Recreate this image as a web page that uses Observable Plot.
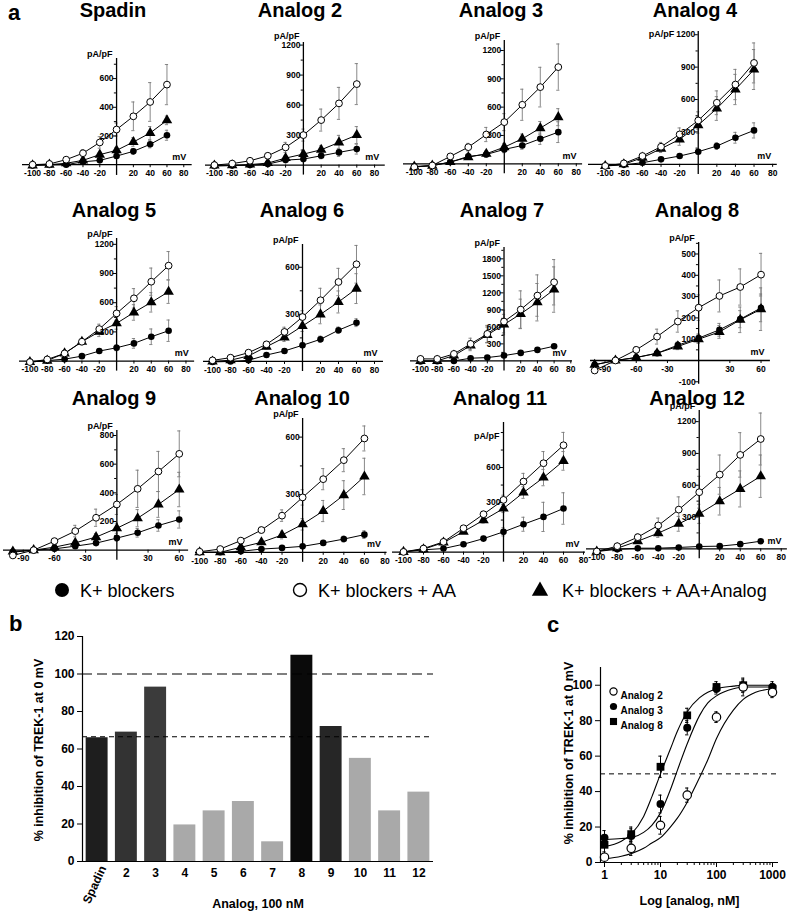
<!DOCTYPE html>
<html><head><meta charset="utf-8">
<script src="https://cdn.jsdelivr.net/npm/d3@7"></script>
<script src="https://cdn.jsdelivr.net/npm/@observablehq/plot@0.6"></script>
<style>
html,body{margin:0;padding:0;background:#fff;}
#root{position:relative;width:787px;height:915px;overflow:hidden;font-family:"Liberation Sans",Arial,sans-serif;color:#000;}
.t{position:absolute;font-weight:bold;white-space:nowrap;}
</style></head>
<body><div id="root"></div>
<script>
// ---------------- DATA ----------------
const voltages = [-100, -80, -60, -40, -20, 0, 20, 40, 60];
const panelTitles = ["Spadin","Analog 2","Analog 3","Analog 4","Analog 5","Analog 6","Analog 7","Analog 8","Analog 9","Analog 10","Analog 11","Analog 12"];
// K+ blockers (filled circles)
const kBlockers = [
  [-5,-2,0,20,30,60,93,142,205],
  [-10,-5,0,10,50,60,93,127,160],
  [-30,-20,18,78,99,152,194,265,335],
  [-15,-5,15,46,77,117,169,246,314],
  [-10,5,20,51,103,137,182,250,312],
  [-3,0,7,41,67,103,141,199,247],
  [-10,-5,0,47,59,94,141,194,259],
  [-20,0,14,34,72,105,144,194,247],
  [-14,0,9,28,49,84,121,172,214],
  [0,0,5,17,23,31,49,69,92],
  [-123,-105,-94,-57,-9,49,114,177,249],
  [-25,-5,6,6,13,22,25,44,72]
];
const kBlockersErr = [
  [3,3,3,8,10,15,20,25,35],
  [3,3,5,8,15,20,30,40,50],
  [5,5,10,20,30,35,40,60,110],
  [5,5,8,12,15,20,30,50,70],
  [3,5,8,12,20,30,50,80,110],
  [3,3,5,10,15,15,20,20,25],
  [3,3,5,8,10,15,20,25,30],
  [5,5,8,10,15,20,30,40,65],
  [3,3,5,10,15,20,30,40,60],
  [2,2,3,5,5,8,10,15,20],
  [3,3,5,10,20,35,60,125,135],
  [3,3,3,3,5,5,8,10,12]
];
// K+ blockers + AA (open circles)
const kBlockersAA = [
  [0,5,35,80,155,245,337,437,558],
  [0,15,43,93,177,300,450,617,810],
  [-35,-18,78,176,310,441,625,812,1024],
  [-15,9,77,163,277,406,570,739,939],
  [-10,17,79,199,329,490,645,816,981],
  [7,24,56,109,188,283,390,506,619],
  [35,35,123,300,476,694,905,1152,1387],
  [-47,0,50,112,183,248,303,345,403],
  [-37,0,63,133,226,319,428,549,672],
  [3,17,61,116,191,286,381,480,593],
  [-123,-94,-37,80,200,323,480,637,791],
  [-25,25,110,220,370,534,700,886,1036]
];
const kBlockersAAErr = [
  [3,5,10,25,40,45,100,135,140],
  [5,8,15,25,50,60,110,160,205],
  [5,5,20,40,75,90,165,210,245],
  [5,5,15,40,60,80,110,140,185],
  [3,5,15,30,50,70,100,140,145],
  [3,5,10,15,30,40,76,87,120],
  [10,10,30,100,150,200,330,365,400],
  [5,5,15,35,50,60,75,85,100],
  [5,5,15,40,60,70,130,140,160],
  [3,5,10,15,30,40,55,60,65],
  [3,5,10,20,25,40,70,100,110],
  [5,10,30,70,120,150,185,210,245]
];
// K+ blockers + AA + Analog (triangles)
const kBlockersAAAnalog = [
  [-5,0,10,30,70,100,158,221,309],
  [-5,-2,5,20,70,110,153,227,300],
  [-30,-20,18,70,106,176,265,378,494],
  [-15,0,62,145,231,363,517,693,878],
  [-10,5,79,199,302,388,500,604,713],
  [0,8,35,94,152,226,300,379,464],
  [0,0,94,270,458,641,829,1035,1258],
  [-20,0,14,34,66,100,134,191,241],
  [-10,0,21,51,91,153,223,319,423],
  [0,0,26,52,90,146,215,298,395],
  [-123,-100,-43,51,149,249,386,514,657],
  [-25,6,72,148,236,330,449,565,685]
];
const kBlockersAAAnalogErr = [
  [3,3,5,10,15,20,30,45,30],
  [3,3,5,10,20,25,40,70,85],
  [5,5,10,20,30,40,50,70,90],
  [5,5,15,35,55,75,110,140,185],
  [3,5,15,30,50,60,80,100,120],
  [3,5,10,15,25,35,60,70,95],
  [5,5,25,90,140,180,260,330,400],
  [5,5,8,10,15,20,30,60,100],
  [3,3,8,15,25,35,60,90,120],
  [2,2,5,10,20,30,55,75,95],
  [3,5,10,15,25,35,50,70,80],
  [5,5,20,40,70,90,130,170,200]
];
const xTickLabelsStd = [-100,-80,-60,-40,-20,20,40,60,80];
const xTickLabels30 = [-90,-60,-30,30,60];
const yTickLabels = [
  [200,400,600],
  [300,600,900,1200],
  [300,600,900,1200],
  [300,600,900,1200],
  [300,600,900,1200],
  [300,600],
  [300,600,900,1200,1500,1800],
  [-100,100,200,300,400,500],
  [200,400,600,800],
  [300,600],
  [300,600],
  [300,600,900,1200]
];
const legendLabels = ["K+ blockers","K+ blockers + AA","K+ blockers + AA+Analog"];

// panel b
const barLabels = ["Spadin","2","3","4","5","6","7","8","9","10","11","12"];
const barValues = [66,69,93,19.5,27,32,10.5,110,72,55,27,37];
const barRefLines = [100,66.5];
const barYTicks = [0,20,40,60,80,100,120];

// panel c
const doseConc = [1,3,10,30,100,300,1000];
const analog2Inh = [3,8,21,38,82,99,96];
const analog2Err = [3,4,5,4,3,5,3];
const analog3Inh = [14,15,33,76,98,99,99];
const analog3Err = [4,4,5,4,3,3,3];
const analog8Inh = [10,16,54,83,99,100,98];
const analog8Err = [5,4,6,4,3,3,3];
const fitConc = [1,2,3,5,7,10,15,20,30,50,70,100,200,300,500,1000];
const analog2Fit = [2,3.5,5,8,11,14,20,25,34,48,58,70,86,92,96,98];
const analog3Fit = [13,13.5,14,17,21,28,41,52,67,83,90,94,98,99,99,99];
const analog8Fit = [9,12,16,26,37,50,64,74,85,93,96,98,99.5,100,100,100];
const doseXTicks = [1,10,100,1000];
const doseYTicks = [0,20,40,60,80,100];
const doseLegend = ["Analog 2","Analog 3","Analog 8"];

// ---------------- STYLE / LAYOUT ----------------
const FONT = '"Liberation Sans", Arial, Helvetica, sans-serif';
const barFills = ["#1e1e1e","#333333","#3b3b3b","#a9a9a9","#a9a9a9","#a9a9a9","#a9a9a9","#0a0a0a","#262626","#a9a9a9","#a9a9a9","#a9a9a9"];
const ivLayout = [
  {ox:116,   oy:164.3, sx:0.84,  sy:0.1435, xd:[-112,90], yd:[-75,740]},
  {ox:303.3, oy:164.3, sx:0.89,  sy:0.1,    xd:[-110,92], yd:[-100,1226], paDy:-2},
  {ox:503.3, oy:163.5, sx:0.9,   sy:0.0944, xd:[-112,87], yd:[-106,1306]},
  {ox:697.7, oy:163.5, sx:0.93,  sy:0.108,  xd:[-118,85], yd:[-93,1230], paDx:-20, paY:1200, paDy:3},
  {ox:116,   oy:360.5, sx:0.867, sy:0.0973, xd:[-112,90], yd:[-103,1260]},
  {ox:302.3, oy:360.5, sx:0.9,   sy:0.157,  xd:[-110,90], yd:[-64,745]},
  {ox:503.3, oy:360.5, sx:0.835, sy:0.0567, xd:[-112,82], yd:[-176,2000]},
  {ox:698.3, oy:359.7, sx:1.04,  sy:0.213,  xd:[-104,69], yd:[-112,554]},
  {ox:116,   oy:550,   sx:1.04,  sy:0.1433, xd:[-109,69], yd:[-70,835]},
  {ox:302.3, oy:551.5, sx:1.03,  sy:0.192,  xd:[-104,82], yd:[-52,697]},
  {ox:503.3, oy:536.7, sx:1.0,   sy:0.1167, xd:[-111,82], yd:[-211,986], axisAt:-125, paDy:18},
  {ox:698.3, oy:548.3, sx:1.025, sy:0.106,  xd:[-110,86], yd:[-94,1305]}
];
const titleCenters = [113,300,501,695,114,302,502,697,114,302,500,697];
const titleTops = [0,0,0,0,200,200,200,200,388,388,388,388];

const root = document.getElementById("root");
function place(el, left, top) {
  el.style.position = "absolute";
  el.style.left = left + "px";
  el.style.top = top + "px";
  root.appendChild(el);
}
function label(text, left, top, size, extra) {
  const d = document.createElement("div");
  d.className = "t";
  d.textContent = text;
  d.style.fontSize = size + "px";
  d.style.lineHeight = size + "px";
  if (extra) Object.assign(d.style, extra);
  place(d, left, top);
  return d;
}

// ---------------- PANEL a ----------------
function ivPanel(i) {
  const L = ivLayout[i];
  const axisAt = L.axisAt ?? 0;
  const [x0, x1] = L.xd, [y0, y1] = L.yd;
  const mL = 44, mR = 14, mT = 18, mB = 18;
  const W = (x1 - x0) * L.sx + mL + mR;
  const H = (y1 - y0) * L.sy + mT + mB;
  const pxX = 1 / L.sx, pxY = 1 / L.sy;
  const series = [
    {s: "K", vals: kBlockers[i], err: kBlockersErr[i]},
    {s: "AA", vals: kBlockersAA[i], err: kBlockersAAErr[i]},
    {s: "AN", vals: kBlockersAAAnalog[i], err: kBlockersAAAnalogErr[i]}
  ];
  const rows = series.flatMap(sr => voltages.map((v, j) => ({s: sr.s, v, y: sr.vals[j], e: sr.err[j]})));
  const xt = (i === 7 || i === 8) ? xTickLabels30 : xTickLabelsStd;
  const yt = yTickLabels[i];
  const pos = yt.filter(d => d > 0);
  const step = pos[1] - pos[0];
  const yMarks = d3.range(step / 2, y1, step / 2).concat(yt.filter(d => d < 0));
  const errStroke = "#7a7a7a";
  const svg = Plot.plot({
    width: W, height: H, marginLeft: mL, marginRight: mR, marginTop: mT, marginBottom: mB,
    x: {domain: L.xd, axis: null},
    y: {domain: L.yd, axis: null},
    style: {overflow: "visible", background: "transparent", fontFamily: FONT, fontWeight: "bold", color: "black"},
    marks: [
      Plot.ruleX(rows, {x: "v", y1: d => d.y - d.e, y2: d => d.y + d.e, stroke: errStroke, strokeWidth: 0.9}),
      Plot.ruleY(rows, {y: d => d.y + d.e, x1: d => d.v - 1.6 * pxX, x2: d => d.v + 1.6 * pxX, stroke: errStroke, strokeWidth: 0.9}),
      Plot.ruleY(rows, {y: d => d.y - d.e, x1: d => d.v - 1.6 * pxX, x2: d => d.v + 1.6 * pxX, stroke: errStroke, strokeWidth: 0.9}),
      Plot.ruleY([axisAt], {stroke: "black", strokeWidth: 1.3}),
      Plot.ruleX([0], {stroke: "black", strokeWidth: 1.3}),
      Plot.ruleX(xt, {x: d => d, y1: axisAt, y2: axisAt - 3 * pxY, stroke: "black", strokeWidth: 1}),
      Plot.ruleY(yMarks, {y: d => d, x1: 0, x2: d => (yt.includes(d) ? -3.5 : -2.2) * pxX, stroke: "black", strokeWidth: 1}),
      Plot.line(rows, {x: "v", y: "y", z: "s", stroke: "black", strokeWidth: 1}),
      Plot.dot(rows.filter(d => d.s === "K"), {x: "v", y: "y", r: 3.3, fill: "black"}),
      Plot.dot(rows.filter(d => d.s === "AN"), {x: "v", y: "y", r: 3.9, symbol: "triangle", fill: "black"}),
      Plot.dot(rows.filter(d => d.s === "AA"), {x: "v", y: "y", r: 3.4, fill: "white", stroke: "black", strokeWidth: 1}),
      Plot.text(yt, {x: 0, y: d => d, text: d => String(d), dx: -3, textAnchor: "end", fontSize: 8.5, fontWeight: "bold"}),
      Plot.text(xt, {x: d => d, y: axisAt, dy: 8.5, text: d => String(d), fontSize: 8.5, fontWeight: "bold"}),
      Plot.text(["pA/pF"], {x: 0, y: L.paY ?? y1, dx: -4 + (L.paDx || 0), dy: -4 + (L.paDy || 0), textAnchor: "end", fontSize: 9, fontWeight: "bold"}),
      Plot.text(["mV"], {x: x1, y: axisAt, dx: -13, dy: -8, fontSize: 9, fontWeight: "bold"})
    ]
  });
  place(svg, L.ox + x0 * L.sx - mL, L.oy - y1 * L.sy - mT);
  label(panelTitles[i], titleCenters[i] - 100, titleTops[i], 20, {width: "200px", textAlign: "center"});
}
for (let i = 0; i < 12; i++) ivPanel(i);

// legend for a
(function legendA() {
  const wrap = document.createElementNS("http://www.w3.org/2000/svg", "svg");
  wrap.setAttribute("width", 787); wrap.setAttribute("height", 30);
  const xs = [62, 300, 540];
  const txs = [80, 318, 562];
  const g = d3.select(wrap);
  g.append("circle").attr("cx", xs[0]).attr("cy", 15).attr("r", 7).attr("fill", "black");
  g.append("circle").attr("cx", xs[1]).attr("cy", 15).attr("r", 6.5).attr("fill", "white").attr("stroke", "black").attr("stroke-width", 1.4);
  g.append("path").attr("d", d3.symbol(d3.symbolTriangle, 115)()).attr("transform", `translate(${xs[2]},16)`).attr("fill", "black");
  legendLabels.forEach((t, k) => {
    g.append("text").attr("x", txs[k]).attr("y", 21.5).attr("font-size", 18).attr("font-family", FONT).text(t);
  });
  place(wrap, 0, 575);
})();

// ---------------- PANEL b ----------------
(function panelB() {
  const bData = barLabels.map((l, i) => ({i, l, v: barValues[i], f: barFills[i]}));
  const svg = Plot.plot({
    width: 419, height: 285, marginLeft: 60, marginRight: 8, marginTop: 8, marginBottom: 52,
    x: {domain: [-0.5, 11.5], axis: null},
    y: {domain: [0, 120], axis: null, label: null},
    color: {type: "identity"},
    style: {overflow: "visible", background: "transparent", fontFamily: FONT, fontWeight: "bold", color: "black"},
    marks: [
      Plot.rectY(bData, {x1: d => d.i - 0.375, x2: d => d.i + 0.375, y: "v", fill: "f"}),
      Plot.ruleY([barRefLines[0]], {stroke: "black", strokeWidth: 1.1, strokeDasharray: "10,5"}),
      Plot.ruleY([barRefLines[1]], {stroke: "black", strokeWidth: 1.1, strokeDasharray: "5,4"}),
      Plot.ruleY([0], {stroke: "black", strokeWidth: 1.2}),
      Plot.ruleX([-0.5], {stroke: "black", strokeWidth: 1.2}),
      Plot.axisY(barYTicks, {tickSize: 5, tickPadding: 3, fontSize: 12, fontWeight: "bold", label: null}),
      Plot.text(bData.slice(1), {x: "i", y: 0, dy: 12, text: "l", fontSize: 12, fontWeight: "bold"}),
      Plot.text(bData.slice(0, 1), {x: "i", y: 0, dx: 6, dy: 5, text: "l", rotate: -65, textAnchor: "end", fontSize: 12, fontWeight: "bold"}),
      Plot.text(["% inhibition of TREK-1 at 0 mV"], {frameAnchor: "left", textAnchor: "middle", rotate: -90, dx: -44, dy: 1, fontSize: 12.5, fontWeight: "bold"}),
      Plot.text(["Analog, 100 nM"], {frameAnchor: "bottom", textAnchor: "middle", dy: 46, fontSize: 12.5, fontWeight: "bold"})
    ]
  });
  place(svg, 22, 628);
})();

// ---------------- PANEL c ----------------
(function panelC() {
  const mk = (name, vals, errs) => doseConc.map((c, j) => ({name, c, v: vals[j], e: errs[j]}));
  const pts = [...mk("A2", analog2Inh, analog2Err), ...mk("A3", analog3Inh, analog3Err), ...mk("A8", analog8Inh, analog8Err)];
  const fits = [
    ...fitConc.map((c, j) => ({name: "A2", c, v: analog2Fit[j]})),
    ...fitConc.map((c, j) => ({name: "A3", c, v: analog3Fit[j]})),
    ...fitConc.map((c, j) => ({name: "A8", c, v: analog8Fit[j]}))
  ];
  // 1 at x=604, one decade = 56 px, frame from x=600 to x=778
  const xd = [Math.pow(10, -4 / 56), Math.pow(10, 174 / 56)];
  const minor = [];
  for (const dec of [1, 10, 100]) for (let k = 2; k <= 9; k++) minor.push(dec * k);
  const sy = 177 / 100;
  const svg = Plot.plot({
    width: 228, height: 255, marginLeft: 50, marginRight: 0, marginTop: 10, marginBottom: 50,
    x: {type: "log", domain: xd, axis: null},
    y: {domain: [0, 110], axis: null, label: null},
    style: {overflow: "visible", background: "transparent", fontFamily: FONT, fontWeight: "bold", color: "black"},
    marks: [
      Plot.ruleY([50], {stroke: "black", strokeWidth: 1, strokeDasharray: "5,4"}),
      Plot.line(fits, {x: "c", y: "v", z: "name", curve: "monotone-x", stroke: "black", strokeWidth: 1.1}),
      Plot.ruleX(pts, {x: "c", y1: d => d.v - d.e, y2: d => d.v + d.e, stroke: "black", strokeWidth: 1}),
      Plot.ruleY(pts, {y: d => d.v + d.e, x1: d => d.c / 1.07, x2: d => d.c * 1.07, stroke: "black", strokeWidth: 1}),
      Plot.ruleY(pts, {y: d => d.v - d.e, x1: d => d.c / 1.07, x2: d => d.c * 1.07, stroke: "black", strokeWidth: 1}),
      Plot.dot(pts.filter(d => d.name === "A8"), {x: "c", y: "v", symbol: "square", r: 4.4, fill: "black"}),
      Plot.dot(pts.filter(d => d.name === "A3"), {x: "c", y: "v", r: 4, fill: "black"}),
      Plot.dot(pts.filter(d => d.name === "A2"), {x: "c", y: "v", r: 4.2, fill: "white", stroke: "black", strokeWidth: 1.2}),
      Plot.ruleY([0], {stroke: "black", strokeWidth: 1.2}),
      Plot.ruleX([xd[0]], {stroke: "black", strokeWidth: 1.2}),
      Plot.axisY(doseYTicks, {tickSize: 5, tickPadding: 3, fontSize: 12, fontWeight: "bold", label: null}),
      Plot.axisX(doseXTicks, {tickSize: 5, tickPadding: 3, fontSize: 12, fontWeight: "bold", label: null, tickFormat: d => String(d)}),
      Plot.ruleX(minor, {x: d => d, y1: 0, y2: -3 / sy, stroke: "black"}),
      Plot.dot([doseLegend[0]], {frameAnchor: "top-left", dx: 13, dy: 24, r: 3.6, fill: "white", stroke: "black", strokeWidth: 1.2}),
      Plot.dot([doseLegend[1]], {frameAnchor: "top-left", dx: 13, dy: 39, r: 3.6, fill: "black"}),
      Plot.dot([doseLegend[2]], {frameAnchor: "top-left", dx: 13, dy: 54, r: 4, symbol: "square", fill: "black"}),
      Plot.text([doseLegend[0]], {frameAnchor: "top-left", dx: 20, dy: 24, textAnchor: "start", fontSize: 10, fontWeight: "bold"}),
      Plot.text([doseLegend[1]], {frameAnchor: "top-left", dx: 20, dy: 39, textAnchor: "start", fontSize: 10, fontWeight: "bold"}),
      Plot.text([doseLegend[2]], {frameAnchor: "top-left", dx: 20, dy: 54, textAnchor: "start", fontSize: 10, fontWeight: "bold"}),
      Plot.text(["% inhibition of TREK-1 at 0 mV"], {frameAnchor: "left", textAnchor: "middle", rotate: -90, dx: -32, dy: -12, fontSize: 12.5, fontWeight: "bold"}),
      Plot.text(["Log [analog, nM]"], {frameAnchor: "bottom", textAnchor: "middle", dy: 42, fontSize: 12.5, fontWeight: "bold"})
    ]
  });
  place(svg, 550, 657);
})();

// panel letters
label("a", 8, 2, 22);
label("b", 9, 613, 22);
label("c", 547, 614, 22);
</script>
</body></html>
